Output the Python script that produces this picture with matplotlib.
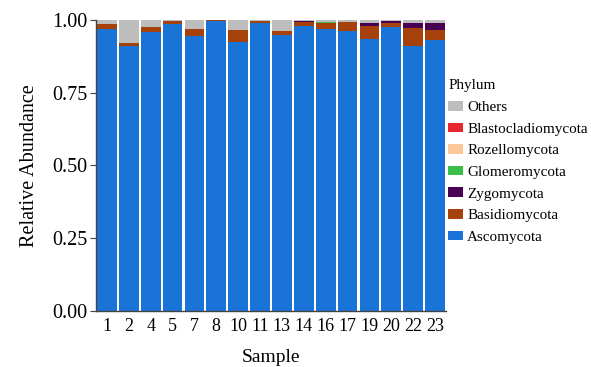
"""
Stacked relative abundance of fungal phyla per sample.
"""
import numpy as np
import matplotlib
matplotlib.use("Agg")
import matplotlib.pyplot as plt
from matplotlib.patches import Patch

samples = ["1", "2", "4", "5", "7", "8", "10", "11", "13", "14", "16", "17", "19", "20", "22", "23"]

# bottom to top
ascomycota = [0.970, 0.910, 0.958, 0.985, 0.945, 0.995, 0.925, 0.988, 0.950, 0.979, 0.968, 0.963, 0.935, 0.975, 0.912, 0.932]
basidiomycota = [0.015, 0.010, 0.017, 0.012, 0.025, 0.004, 0.040, 0.010, 0.013, 0.015, 0.023, 0.031, 0.045, 0.016, 0.060, 0.034]
zygomycota = [0.000, 0.000, 0.000, 0.000, 0.000, 0.000, 0.000, 0.000, 0.000, 0.002, 0.000, 0.000, 0.011, 0.006, 0.019, 0.025]
glomeromycota = [0.000, 0.000, 0.000, 0.000, 0.000, 0.000, 0.000, 0.000, 0.000, 0.000, 0.003, 0.000, 0.000, 0.000, 0.000, 0.000]
rozellomycota = [0.000, 0.000, 0.000, 0.000, 0.000, 0.000, 0.000, 0.000, 0.000, 0.000, 0.000, 0.000, 0.000, 0.000, 0.000, 0.000]
blastocladiomycota = [0.000, 0.000, 0.000, 0.000, 0.000, 0.000, 0.000, 0.000, 0.000, 0.000, 0.000, 0.000, 0.000, 0.000, 0.000, 0.000]
others = [0.015, 0.080, 0.025, 0.003, 0.030, 0.001, 0.035, 0.002, 0.037, 0.004, 0.006, 0.006, 0.009, 0.003, 0.009, 0.009]

phyla = ["Ascomycota", "Basidiomycota", "Zygomycota", "Glomeromycota",
         "Rozellomycota", "Blastocladiomycota", "Others"]
series = [ascomycota, basidiomycota, zygomycota, glomeromycota,
          rozellomycota, blastocladiomycota, others]
colors = ["#1a74d8", "#a6410c", "#470052", "#3cbf4a", "#fcc89a", "#e8262d", "#bdbdbd"]

plt.rcParams["font.family"] = ["Liberation Serif", "DejaVu Serif"]

fig = plt.figure(figsize=(5.91, 3.67), dpi=100)
ax = fig.add_axes([0.1624, 0.1526, 0.5923, 0.7929])

x = np.arange(len(samples))
bottom = np.zeros(len(samples))
for name, vals, col in zip(phyla, series, colors):
    vals = np.array(vals)
    ax.bar(x, vals, width=0.9, bottom=bottom, color=col, edgecolor="none", zorder=2)
    bottom += vals

ax.set_xlim(-0.5, len(samples) - 0.5)
ax.set_ylim(0, 1.0)
ax.set_yticks([0, 0.25, 0.5, 0.75, 1.0])
ax.set_yticklabels(["0.00", "0.25", "0.50", "0.75", "1.00"])
ax.set_xticks(x)
ax.set_xticklabels(samples)

for s in ["top", "right"]:
    ax.spines[s].set_visible(False)
for s in ["left", "bottom"]:
    ax.spines[s].set_color("#444444")
    ax.spines[s].set_linewidth(1.0)
    ax.spines[s].set_zorder(3)

ax.tick_params(axis="y", direction="out", length=4, color="#444444", labelsize=14.5, pad=2)
ax.tick_params(axis="x", direction="in", length=4, color="#222222", labelsize=13, pad=5)
ax.set_ylabel("Relative Abundance", fontsize=14.5, labelpad=10)
ax.set_xlabel("Sample", fontsize=14, labelpad=10)

handles = [Patch(facecolor=c, edgecolor="none") for c in colors][::-1]
fig.legend(handles, phyla[::-1], title="Phylum", loc="upper left",
           bbox_to_anchor=(0.748, 0.80), frameon=False, fontsize=10.9,
           title_fontsize=10.9, handlelength=0.95, handleheight=0.6,
           handletextpad=0.3, labelspacing=0.56, alignment="left",
           borderaxespad=0)

fig.savefig("out.png", dpi=100)
